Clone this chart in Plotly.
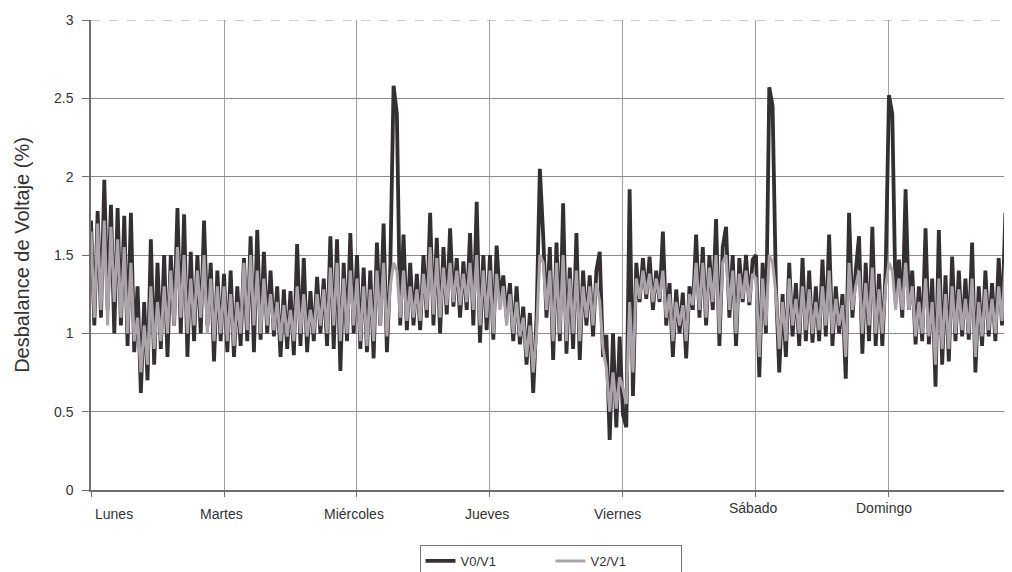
import plotly.graph_objects as go

# Day labels (x axis)
days = ["Lunes", "Martes", "Miércoles", "Jueves", "Viernes", "Sábado", "Domingo"]
step_days = 0.025  # sampling interval of the record, in days

# V0/V1 (%), day by day
v0_v1 = [
    # Lunes
    1.72, 1.05, 1.78, 1.10, 1.98, 1.15, 1.82, 1.00, 1.80, 1.05,
    1.75, 0.92, 1.77, 0.88, 1.30, 0.62, 1.20, 0.70, 1.60, 0.80,
    1.45, 0.90, 1.50, 0.85, 1.50, 1.05, 1.80, 1.00, 1.76, 0.85,
    1.52, 0.95, 1.50, 1.00, 1.72, 1.05, 1.45, 0.82, 1.40, 0.95,
    # Martes
    1.38, 0.88, 1.40, 0.85, 1.30, 0.92, 1.48, 0.95, 1.62, 0.88,
    1.66, 0.96, 1.52, 1.00, 1.40, 0.98, 1.30, 0.85, 1.28, 0.90,
    1.27, 0.86, 1.57, 0.92, 1.48, 0.88, 1.27, 0.95, 1.36, 1.00,
    1.35, 0.92, 1.62, 0.90, 1.60, 0.76, 1.45, 0.95, 1.64, 1.00,
    # Miércoles
    1.50, 0.90, 1.42, 0.88, 1.40, 0.84, 1.58, 1.05, 1.70, 0.88,
    1.40, 2.58, 2.40, 1.05, 1.63, 1.02, 1.45, 1.05, 1.38, 1.02,
    1.50, 1.10, 1.77, 1.05, 1.61, 1.00, 1.55, 1.12, 1.67, 1.17,
    1.48, 1.10, 1.46, 1.15, 1.64, 1.05, 1.84, 0.94, 1.50, 1.02,
    # Jueves
    1.50, 0.96, 1.56, 1.20, 1.37, 1.10, 1.32, 0.95, 1.30, 0.93,
    1.17, 0.80, 1.13, 0.62, 1.10, 2.05, 1.62, 1.10, 1.55, 0.83,
    1.58, 0.95, 1.83, 0.87, 1.42, 0.90, 1.64, 0.83, 1.40, 1.05,
    1.37, 0.98, 1.40, 1.52, 0.85, 0.99, 0.32, 1.00, 0.40, 0.98,
    # Viernes
    0.48, 0.40, 1.92, 0.60, 1.45, 1.20, 1.48, 1.22, 1.49, 1.15,
    1.40, 1.20, 1.65, 1.05, 1.32, 0.85, 1.28, 1.00, 1.26, 0.84,
    1.30, 1.15, 1.63, 1.10, 1.55, 1.05, 1.50, 1.15, 1.73, 0.92,
    1.55, 1.68, 1.10, 1.50, 0.92, 1.48, 1.20, 1.50, 1.18, 1.47,
    # Sábado
    1.50, 0.72, 1.45, 1.00, 2.57, 2.45, 1.30, 0.75, 1.25, 0.85,
    1.45, 0.98, 1.32, 0.92, 1.48, 0.95, 1.40, 0.94, 1.30, 0.95,
    1.47, 0.98, 1.63, 0.92, 1.30, 1.00, 1.25, 0.71, 1.77, 1.10,
    1.40, 1.62, 0.87, 1.45, 0.95, 1.68, 0.92, 1.38, 0.92, 1.40,
    # Domingo
    2.52, 2.40, 1.20, 1.47, 1.10, 1.92, 1.15, 1.40, 0.93, 1.30,
    0.95, 1.67, 0.93, 1.35, 0.66, 1.66, 0.80, 1.37, 0.82, 1.49,
    0.95, 1.40, 0.98, 1.35, 0.96, 1.58, 0.75, 1.30, 0.92, 1.40,
    0.98, 1.32, 0.95, 1.48, 1.05, 1.77, 1.00,
]

# V2/V1 (%), day by day
v2_v1 = [
    # Lunes
    1.65, 1.10, 1.70, 1.15, 1.72, 1.05, 1.68, 1.20, 1.60, 1.10,
    1.55, 1.00, 1.45, 0.95, 1.10, 0.75, 1.05, 0.80, 1.30, 0.90,
    1.20, 0.95, 1.30, 1.00, 1.40, 1.05, 1.55, 1.10, 1.50, 1.00,
    1.35, 1.05, 1.40, 1.10, 1.50, 1.00, 1.35, 0.95, 1.30, 1.00,
    # Martes
    1.30, 0.95, 1.25, 0.92, 1.20, 1.00, 1.45, 1.02, 1.50, 1.05,
    1.40, 1.00, 1.35, 1.05, 1.25, 1.02, 1.20, 0.95, 1.18, 0.98,
    1.15, 0.95, 1.30, 1.00, 1.25, 0.98, 1.15, 1.00, 1.25, 1.05,
    1.28, 1.00, 1.42, 1.05, 1.45, 0.95, 1.35, 1.00, 1.40, 1.05,
    # Miércoles
    1.35, 0.95, 1.30, 0.92, 1.28, 0.95, 1.40, 1.05, 1.45, 0.98,
    1.30, 1.45, 1.40, 1.10, 1.40, 1.08, 1.30, 1.10, 1.28, 1.08,
    1.38, 1.15, 1.55, 1.12, 1.48, 1.10, 1.42, 1.18, 1.45, 1.20,
    1.40, 1.18, 1.38, 1.20, 1.45, 1.15, 1.50, 1.05, 1.40, 1.10,
    # Jueves
    1.40, 1.00, 1.38, 1.15, 1.30, 1.05, 1.25, 1.00, 1.20, 0.98,
    1.10, 0.85, 1.05, 0.75, 1.00, 1.50, 1.45, 1.15, 1.40, 0.95,
    1.45, 1.00, 1.50, 0.95, 1.35, 1.00, 1.40, 0.95, 1.30, 1.10,
    1.30, 1.05, 1.32, 1.20, 0.90, 0.78, 0.50, 0.75, 0.52, 0.72,
    # Viernes
    0.65, 0.55, 1.20, 0.75, 1.35, 1.22, 1.40, 1.25, 1.38, 1.20,
    1.35, 1.22, 1.40, 1.10, 1.25, 0.95, 1.20, 1.05, 1.18, 0.95,
    1.25, 1.18, 1.45, 1.15, 1.45, 1.10, 1.42, 1.20, 1.50, 1.00,
    1.45, 1.50, 1.15, 1.40, 1.00, 1.38, 1.22, 1.40, 1.20, 1.38,
    # Sábado
    1.35, 0.85, 1.35, 1.05, 1.50, 1.45, 1.25, 0.90, 1.20, 0.95,
    1.35, 1.05, 1.22, 1.00, 1.30, 1.02, 1.28, 1.00, 1.20, 1.02,
    1.30, 1.05, 1.40, 1.00, 1.22, 1.05, 1.18, 0.85, 1.45, 1.15,
    1.30, 1.40, 1.00, 1.32, 1.05, 1.42, 1.00, 1.28, 1.00, 1.30,
    # Domingo
    1.45, 1.40, 1.15, 1.35, 1.15, 1.45, 1.15, 1.30, 0.98, 1.20,
    1.00, 1.35, 0.98, 1.20, 0.80, 1.35, 0.90, 1.25, 0.90, 1.30,
    1.00, 1.28, 1.02, 1.22, 1.00, 1.35, 0.85, 1.20, 0.98, 1.28,
    1.02, 1.22, 1.00, 1.30, 1.08, 1.45, 1.10,
]

y_ticks = [0, 0.5, 1, 1.5, 2, 2.5, 3]
y_tick_text = ["0", "0.5", "1", "1.5", "2", "2.5", "3"]

t = [i * step_days for i in range(len(v0_v1))]

fig = go.Figure()
fig.add_trace(go.Scatter(
    x=t, y=v0_v1, mode="lines", name="V0/V1",
    line=dict(color="#342f33", width=3.8),
))
fig.add_trace(go.Scatter(
    x=t, y=v2_v1, mode="lines", name="V2/V1",
    line=dict(color="#aba3a9", width=3.0),
))

label_font = dict(family="Liberation Sans Narrow, Liberation Sans, Arial", size=14, color="#333333")
label_pos = [0.17, 0.98, 1.98, 2.98, 3.96, 4.98, 5.96]
label_dy = [0, 0, 0, 0, 0, 6, 6]
for name, xp, dy in zip(days, label_pos, label_dy):
    fig.add_annotation(
        x=xp, y=0, xref="x", yref="y", text=name, showarrow=False,
        yanchor="top", yshift=-14 + dy, font=label_font,
    )

fig.add_shape(type="line", xref="paper", yref="y", x0=0, x1=1, y0=3, y1=3,
              line=dict(color="#9a9a9a", width=1, dash="dash"))

fig.update_layout(
    width=1004, height=564,
    margin=dict(l=83, r=2, t=12, b=82, autoexpand=False),
    paper_bgcolor="white", plot_bgcolor="white",
    font=dict(family="Liberation Sans, Arial", color="#333333"),
    showlegend=True,
    legend=dict(
        orientation="h", x=0.5, xanchor="center", y=-0.117, yanchor="top",
        bordercolor="#777777", borderwidth=1, font=dict(size=13, color="#333333"),
        entrywidth=85, entrywidthmode="pixels",
    ),
    xaxis=dict(
        range=[0, 6.91], dtick=1, tick0=0, showticklabels=False,
        showgrid=True, gridcolor="#a0a0a0", gridwidth=1,
        showline=True, linecolor="#6e6e6e", linewidth=1.5,
        ticks="outside", ticklen=5, tickcolor="#6e6e6e",
        zeroline=False, automargin=False,
    ),
    yaxis=dict(
        range=[0, 3], tickvals=y_ticks, ticktext=y_tick_text,
        showgrid=True, gridcolor="#8c8c8c", gridwidth=1,
        showline=True, linecolor="#6e6e6e", linewidth=1.5,
        ticks="outside", ticklen=7, tickcolor="#6e6e6e",
        tickfont=dict(size=14, color="#333333"), ticklabelstandoff=6,
        zeroline=False, automargin=False,
        title=dict(text="Desbalance de Voltaje (%)", font=dict(size=20, color="#333333"), standoff=19),
    ),
)

fig.write_html("out.html")
